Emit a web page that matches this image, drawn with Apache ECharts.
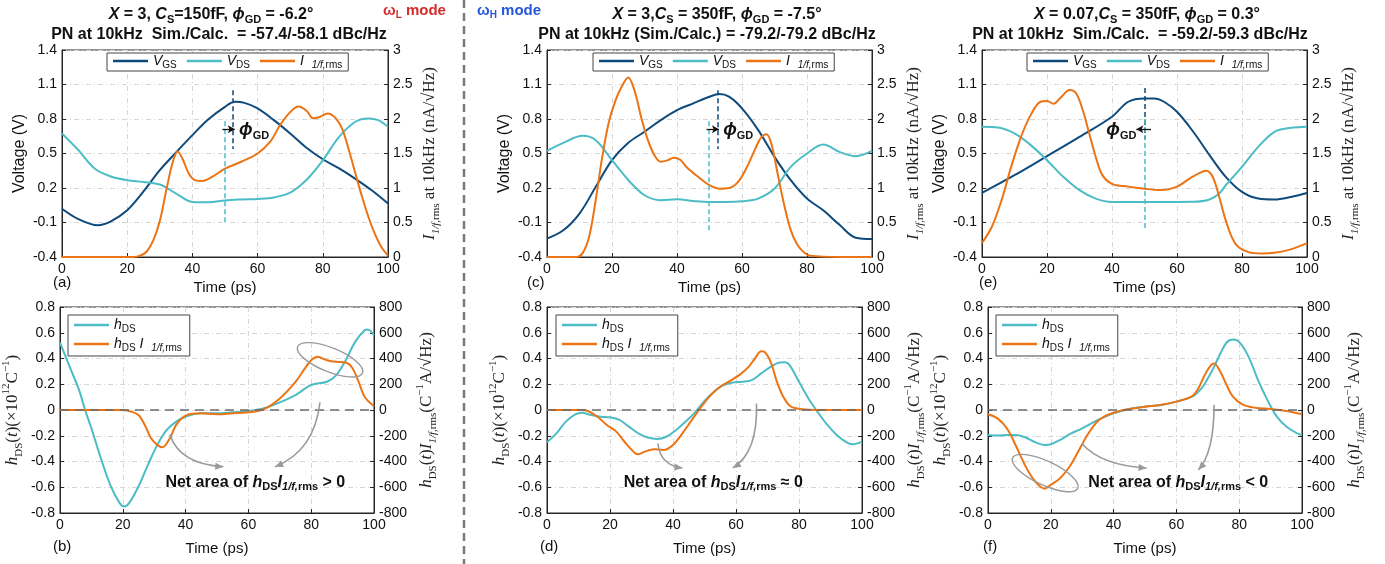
<!DOCTYPE html>
<html>
<head>
<meta charset="utf-8">
<script src="https://cdn.jsdelivr.net/npm/echarts@6/dist/echarts.min.js"></script>
<style>
html, body { margin: 0; padding: 0; background: #fff; }
#chart { width: 1385px; height: 564px; }
</style>
</head>
<body>
<div id="chart"></div>
<script>
// ---- (a) wL mode ----
var tVgsA = [0, 5, 11, 15, 20, 25, 30, 35, 40, 45, 50, 53, 56, 60, 65, 70, 75, 80, 85, 90, 95, 100];
var vgsA = [0.02, -0.07, -0.124, -0.09, 0.006, 0.17, 0.355, 0.51, 0.66, 0.8, 0.906, 0.95, 0.94, 0.892, 0.79, 0.674, 0.55, 0.45, 0.37, 0.28, 0.18, 0.065];
var tVdsA = [0, 5, 10, 15, 20, 25, 30, 35, 40, 45, 50, 55, 60, 65, 70, 73, 76, 80, 85, 90, 94, 97, 100];
var vdsA = [0.674, 0.53, 0.37, 0.3, 0.268, 0.253, 0.23, 0.152, 0.079, 0.076, 0.092, 0.1, 0.105, 0.118, 0.16, 0.22, 0.3, 0.44, 0.645, 0.776, 0.805, 0.79, 0.732];
var tIA = [0, 22, 24, 26, 28, 30, 32, 34, 35.5, 37, 39, 41, 43, 46, 50, 55, 60, 64, 67, 70, 72.5, 75, 77, 79, 81.5, 84, 86, 88, 90, 92, 94, 96, 98, 100];
var iA = [0, 0, 0.02, 0.08, 0.24, 0.52, 0.97, 1.38, 1.53, 1.42, 1.2, 1.11, 1.1, 1.16, 1.28, 1.38, 1.5, 1.68, 1.92, 2.1, 2.18, 2.12, 2.01, 2.03, 2.08, 2.01, 1.85, 1.55, 1.21, 0.88, 0.58, 0.33, 0.14, 0.02];

// ---- (b) ----
var tHA = [0, 3, 6, 8, 10, 13, 16, 19, 20.5, 22, 25, 28, 31, 34, 37, 40, 45, 50, 55, 60, 65, 70, 75, 80, 85, 88, 91, 94, 97, 98, 100];
var hA = [0.524, 0.34, 0.16, 0.0, -0.142, -0.374, -0.581, -0.723, -0.748, -0.723, -0.594, -0.426, -0.271, -0.155, -0.09, -0.052, -0.026, -0.026, -0.018, -0.008, 0.013, 0.059, 0.116, 0.194, 0.219, 0.271, 0.387, 0.529, 0.619, 0.625, 0.581];
var tHIA = [0, 20, 22, 25, 27, 29, 31, 32.6, 35, 37, 40, 45, 50, 55, 60, 65, 70, 75, 78, 80, 82, 85, 88, 91, 93, 95, 97, 100];
var hIA = [0, 0, -8, -39, -116, -219, -271, -290, -219, -116, -44, -26, -33, -26, -18, 8, 90, 219, 323, 387, 413, 387, 374, 369, 330, 226, 103, 30];

// ---- (c) wH mode ----
var tVgsC = [0, 5, 10, 15, 20, 25, 30, 35, 40, 45, 50, 53, 56, 60, 65, 70, 75, 80, 85, 90, 95, 100];
var vgsC = [-0.24, -0.168, -0.022, 0.21, 0.442, 0.593, 0.689, 0.79, 0.877, 0.936, 0.994, 1.017, 0.994, 0.892, 0.703, 0.471, 0.268, 0.108, 0.006, -0.12, -0.232, -0.243];
var tVdsC = [0, 5, 11, 15, 20, 25, 30, 35, 40, 45, 50, 55, 60, 65, 70, 75, 80, 85, 90, 95, 100];
var vdsC = [0.523, 0.593, 0.654, 0.616, 0.442, 0.27, 0.137, 0.094, 0.102, 0.088, 0.079, 0.079, 0.085, 0.108, 0.195, 0.384, 0.5, 0.578, 0.514, 0.477, 0.523];
var tIC = [0, 9, 11, 13, 15, 17, 19, 21, 23, 25, 27, 29, 31, 33, 35, 37, 39, 41, 43, 46, 50, 53, 56, 59, 62, 64, 66, 67.5, 69, 71, 73, 75, 77, 79, 81, 90, 100];
var iC = [0, 0, 0.06, 0.3, 0.83, 1.45, 1.95, 2.26, 2.47, 2.6, 2.4, 2.02, 1.7, 1.48, 1.38, 1.4, 1.44, 1.41, 1.3, 1.18, 1.04, 0.99, 1.0, 1.1, 1.35, 1.56, 1.74, 1.78, 1.65, 1.2, 0.75, 0.39, 0.18, 0.07, 0.02, 0, 0];

// ---- (d) ----
var tHC = [0, 3, 6, 9, 11, 14, 17, 20, 23, 26, 29, 32, 35, 38, 41, 44, 47, 50, 53, 56, 59, 62, 65, 68, 71, 74, 75.5, 77, 80, 83, 86, 89, 92, 95, 97, 100];
var hC = [-0.25, -0.181, -0.09, -0.034, -0.021, -0.039, -0.052, -0.057, -0.077, -0.129, -0.181, -0.214, -0.225, -0.206, -0.155, -0.09, -0.018, 0.07, 0.142, 0.194, 0.214, 0.219, 0.232, 0.284, 0.335, 0.369, 0.37, 0.348, 0.219, 0.09, -0.018, -0.116, -0.194, -0.25, -0.266, -0.245];
var tHIC = [0, 11, 13, 16, 19, 22, 25, 28, 29, 31, 34, 37, 40, 43, 46, 49, 52, 55, 58, 61, 64, 66, 68, 69, 71, 73, 75, 77, 79, 81, 85, 100];
var hIC = [0, 0, -8, -52, -116, -168, -258, -335, -343, -323, -305, -310, -271, -181, -77, 26, 116, 181, 225, 271, 335, 400, 457, 452, 374, 219, 103, 34, 13, 5, 0, 0];

// ---- (e) ----
var tVgsE = [0, 10, 20, 30, 40, 45, 50, 53, 56, 60, 65, 70, 75, 80, 85, 90, 95, 100];
var vgsE = [0.157, 0.311, 0.477, 0.645, 0.82, 0.95, 0.979, 0.979, 0.95, 0.863, 0.689, 0.486, 0.297, 0.166, 0.108, 0.1, 0.122, 0.157];
var tVdsE = [0, 5, 10, 15, 20, 25, 30, 35, 40, 50, 60, 65, 70, 73, 75, 80, 85, 90, 95, 100];
var vdsE = [0.732, 0.726, 0.674, 0.573, 0.442, 0.297, 0.181, 0.108, 0.079, 0.079, 0.079, 0.08, 0.1, 0.152, 0.224, 0.384, 0.558, 0.689, 0.723, 0.732];
var tIE = [0, 3, 6, 9, 12, 15, 18, 20, 22, 24, 27, 29, 31, 33, 35, 37, 40, 45, 50, 55, 60, 64, 67, 69, 71, 73, 75, 78, 82, 86, 90, 95, 100];
var iE = [0.203, 0.435, 0.82, 1.31, 1.74, 2.06, 2.25, 2.26, 2.22, 2.3, 2.42, 2.37, 2.13, 1.79, 1.45, 1.19, 1.06, 1.02, 0.99, 0.97, 1.02, 1.14, 1.22, 1.25, 1.16, 0.87, 0.53, 0.19, 0.07, 0.05, 0.06, 0.11, 0.2];

// ---- (f) ----
var tHE = [0, 3, 6, 9, 12, 15, 18, 20, 23, 26, 30, 35, 40, 45, 50, 55, 60, 65, 68, 70, 72, 74, 76, 78, 80, 83, 86, 89, 92, 95, 98, 100];
var hE = [-0.194, -0.199, -0.194, -0.194, -0.214, -0.25, -0.271, -0.266, -0.232, -0.188, -0.142, -0.077, -0.026, 0.008, 0.026, 0.039, 0.065, 0.103, 0.168, 0.245, 0.335, 0.439, 0.524, 0.547, 0.529, 0.413, 0.232, 0.077, -0.052, -0.129, -0.175, -0.194];
var tHIE = [0, 3, 6, 9, 12, 15, 18, 20, 23, 26, 29, 32, 35, 38, 41, 45, 50, 55, 60, 65, 67, 69, 71, 72, 74, 76, 78, 81, 85, 90, 95, 100];
var hIE = [-33, -65, -142, -284, -439, -555, -611, -581, -529, -439, -310, -181, -85, -39, -13, 8, 26, 39, 65, 108, 168, 271, 348, 361, 297, 194, 103, 44, 18, 8, -8, -33];

// 标注: phiGD 虚线位置 [t, y1, y2]
var phiVgs = { a: [52.5, 1.05, 0.54], c: [52.4, 1.05, 0.54], e: [50.2, 1.07, 0.62] };
var phiVds = { a: [50, 0.78, -0.11], c: [49.9, 0.78, -0.17], e: [50, 0.8, -0.17] };

var chart = echarts.init(document.getElementById('chart'));
var SANS = 'Liberation Sans, Arial, Helvetica, sans-serif';
var SERIF = 'Liberation Serif, DejaVu Serif, Times New Roman, serif';
var C_VGS = '#0e4a7b';
var C_VDS = '#4cbcc5';
var C_I = '#ec7414';
var AX = '#262626';

function pairs(t, v) {
    return t.map(function (x, i) { return [x, v[i]]; });
}

var panels = [
    { id: 'a', top: true, g: [62, 50, 326, 207], lines: [[tVgsA, vgsA, C_VGS, 'VGS', 0], [tVdsA, vdsA, C_VDS, 'VDS', 0], [tIA, iA, C_I, 'I', 1]] },
    { id: 'b', top: false, g: [59, 307, 315, 206], lines: [[tHA, hA, C_VDS, 'hDS', 0], [tHIA, hIA, C_I, 'hDSI', 1]] },
    { id: 'c', top: true, g: [547, 50, 325, 207], lines: [[tVgsC, vgsC, C_VGS, 'VGS', 0], [tVdsC, vdsC, C_VDS, 'VDS', 0], [tIC, iC, C_I, 'I', 1]] },
    { id: 'd', top: false, g: [547, 307, 315, 206], lines: [[tHC, hC, C_VDS, 'hDS', 0], [tHIC, hIC, C_I, 'hDSI', 1]] },
    { id: 'e', top: true, g: [982, 50, 325, 207], lines: [[tVgsE, vgsE, C_VGS, 'VGS', 0], [tVdsE, vdsE, C_VDS, 'VDS', 0], [tIE, iE, C_I, 'I', 1]] },
    { id: 'f', top: false, g: [988, 307, 314, 206], lines: [[tHE, hE, C_VDS, 'hDS', 0], [tHIE, hIE, C_I, 'hDSI', 1]] }
];

var serifRich = {
    n: { fontFamily: SERIF, fontSize: 17, color: '#222' },
    i: { fontFamily: SERIF, fontStyle: 'italic', fontSize: 17, color: '#222' },
    s: { fontFamily: SERIF, fontSize: 11, color: '#222', verticalAlign: 'bottom', lineHeight: 24 },
    si: { fontFamily: SERIF, fontStyle: 'italic', fontSize: 11, color: '#222', verticalAlign: 'bottom', lineHeight: 24 },
    p: { fontFamily: SERIF, fontSize: 11, color: '#222', verticalAlign: 'top', lineHeight: 24 }
};

var legendRich = {
    i: { fontFamily: SANS, fontStyle: 'italic', fontSize: 14, color: '#111', lineHeight: 18 },
    s: { fontFamily: SANS, fontSize: 10, color: '#111', verticalAlign: 'bottom', lineHeight: 18, padding: [6, 0, 0, 0] },
    si: { fontFamily: SANS, fontStyle: 'italic', fontSize: 10, color: '#111', verticalAlign: 'bottom', lineHeight: 18, padding: [6, 0, 0, 0] }
};
var legendText = {
    VGS: '{i|V}{s|GS}',
    VDS: '{i|V}{s|DS}',
    I: '{i|I}  {si|1/f,}{s|rms}',
    hDS: '{i|h}{s|DS}',
    hDSI: '{i|h}{s|DS} {i|I}  {si|1/f,}{s|rms}'
};

var gridLine = { show: true, lineStyle: { color: '#d6d6d6', type: [5, 3, 1, 3], width: 1 } };

var option = {
    animation: false,
    backgroundColor: '#fff',
    textStyle: { fontFamily: SANS },
    grid: [], xAxis: [], yAxis: [], series: [], legend: []
};

var leftSeries = [];

panels.forEach(function (p, i) {
    option.grid.push({
        left: p.g[0], top: p.g[1], width: p.g[2], height: p.g[3],
        show: true, borderColor: AX, borderWidth: 1, backgroundColor: 'rgba(0,0,0,0)'
    });
    option.xAxis.push({
        gridIndex: i, type: 'value', min: 0, max: 100, interval: 20,
        name: 'Time (ps)', nameLocation: 'middle', nameGap: p.top ? 23 : 28,
        nameTextStyle: { fontSize: 15, color: '#111' },
        axisLine: { show: true, onZero: false, lineStyle: { color: AX } },
        axisTick: { show: true, inside: true, length: 4, lineStyle: { color: AX } },
        axisLabel: { fontSize: 14, color: '#111', margin: 5 },
        splitLine: gridLine
    });
    if (p.top) {
        option.yAxis.push({
            gridIndex: i, type: 'value', min: -0.4, max: 1.4, interval: 0.3,
            name: 'Voltage (V)', nameLocation: 'middle', nameGap: 34,
            nameTextStyle: { fontSize: 16, color: '#111' },
            axisLine: { show: true, onZero: false, lineStyle: { color: AX } },
            axisTick: { show: true, inside: true, length: 4, lineStyle: { color: AX } },
            axisLabel: { fontSize: 14, color: '#111', margin: 5, formatter: function (v) { return v.toFixed(1); } },
            splitLine: gridLine
        });
        option.yAxis.push({
            gridIndex: i, type: 'value', position: 'right', min: 0, max: 3, interval: 0.5,
            name: '{i|I}{si|1/f,}{s|rms} {n|at 10kHz (nA/√Hz)}', nameLocation: 'middle', nameGap: 30,
            nameTextStyle: { rich: serifRich, fontFamily: SERIF, fontSize: 17, color: '#222' },
            axisLine: { show: true, onZero: false, lineStyle: { color: AX } },
            axisTick: { show: true, inside: true, length: 4, lineStyle: { color: AX } },
            axisLabel: { fontSize: 14, color: '#111', margin: 5, formatter: function (v) { return String(+v.toFixed(1)); } },
            splitLine: { show: false }
        });
    } else {
        option.yAxis.push({
            gridIndex: i, type: 'value', min: -0.8, max: 0.8, interval: 0.2,
            name: '{i|h}{s|DS}{n|(}{i|t}{n|)(×10}{p|12}{n|C}{p|−1}{n|)}', nameLocation: 'middle', nameGap: 35,
            nameTextStyle: { rich: serifRich, fontFamily: SERIF, fontSize: 17, color: '#222' },
            axisLine: { show: true, onZero: false, lineStyle: { color: AX } },
            axisTick: { show: true, inside: true, length: 4, lineStyle: { color: AX } },
            axisLabel: { fontSize: 14, color: '#111', margin: 5, formatter: function (v) { return Math.abs(v) < 1e-9 ? '0' : v.toFixed(1); } },
            splitLine: gridLine
        });
        option.yAxis.push({
            gridIndex: i, type: 'value', position: 'right', min: -800, max: 800, interval: 200,
            name: '{i|h}{s|DS}{n|(}{i|t}{n|)}{i|I}{si|1/f,}{s|rms}{n|(C}{p|−1}{n|A/√Hz)}', nameLocation: 'middle', nameGap: 41,
            nameTextStyle: { rich: serifRich, fontFamily: SERIF, fontSize: 17, color: '#222' },
            axisLine: { show: true, onZero: false, lineStyle: { color: AX } },
            axisTick: { show: true, inside: true, length: 4, lineStyle: { color: AX } },
            axisLabel: { fontSize: 14, color: '#111', margin: 5, formatter: function (v) { return String(Math.round(v)); } },
            splitLine: { show: false }
        });
    }

    p.lines.forEach(function (ln, k) {
        var s = {
            name: ln[3], type: 'line', xAxisIndex: i, yAxisIndex: 2 * i + ln[4],
            data: pairs(ln[0], ln[1]), smooth: 0.35, showSymbol: false, silent: true,
            itemStyle: { color: ln[2] }, lineStyle: { color: ln[2], width: 2 }
        };
        if (k === 0) leftSeries[i] = option.series.length;
        // 零线 (画在橙线上面)
        if (!p.top && ln[3] === 'hDSI') {
            s.markLine = {
                silent: true, symbol: ['none', 'none'], label: { show: false },
                lineStyle: { color: '#6b6b6b', type: [9, 6], width: 1.6 },
                data: [{ yAxis: 0 }]
            };
        }
        if (p.top && ln[3] === 'VGS') {
            var pv = phiVgs[p.id];
            s.markLine = {
                silent: true, symbol: ['none', 'none'], label: { show: false },
                lineStyle: { color: C_VGS, type: [5, 3], width: 1.5 },
                data: [[{ coord: [pv[0], pv[1]] }, { coord: [pv[0], pv[2]] }]]
            };
        }
        if (p.top && ln[3] === 'VDS') {
            var pd = phiVds[p.id];
            var right = p.id !== 'e';
            var a0 = right ? pd[0] - 0.8 : phiVgs[p.id][0] + 1.8;
            var a1 = right ? phiVgs[p.id][0] + 0.5 : pd[0] - 2.5;
            s.markLine = {
                silent: true, label: { show: false },
                data: [
                    [{ coord: [pd[0], pd[1]], symbol: 'none', lineStyle: { color: C_VDS, type: [5, 3], width: 1.5 } }, { coord: [pd[0], pd[2]], symbol: 'none' }],
                    [{ coord: [a0, 0.71], symbol: 'none', lineStyle: { color: '#111', type: 'solid', width: 1.3 } }, { coord: [a1, 0.71], symbol: 'arrow', symbolSize: [6, 7] }]
                ]
            };
        }
        option.series.push(s);
    });

    var isTop = p.top;
    var lg = {
        show: true, orient: isTop ? 'horizontal' : 'vertical',
        data: isTop ? ['VGS', 'VDS', 'I'] : ['hDS', 'hDSI'],
        icon: 'rect', itemWidth: 35, itemHeight: 2.5, itemGap: isTop ? 10 : 3,
        borderColor: '#444', borderWidth: 1, backgroundColor: '#fff', borderRadius: 0,
        padding: isTop ? [1, 6, 1, 6] : [3, 8, 3, 6],
        selectedMode: false,
        formatter: function (name) { return legendText[name]; },
        textStyle: { rich: legendRich, fontSize: 14 }
    };
    var lpos = { a: [107, 53], b: [68, 315], c: [593, 53], d: [556, 315], e: [1027, 53], f: [996, 315] }[p.id];
    lg.left = lpos[0];
    lg.top = lpos[1];
    option.legend.push(lg);
});

chart.setOption(option);

// ---- 标注 graphic ----
function px(i, pt) {
    return chart.convertToPixel({ seriesIndex: leftSeries[i] }, pt);
}

function richStyles(c, size) {
    return {
        b: { fontFamily: SANS, fontWeight: 'bold', fontSize: size, fill: c },
        bi: { fontFamily: SANS, fontWeight: 'bold', fontStyle: 'italic', fontSize: size, fill: c },
        s: { fontFamily: SANS, fontWeight: 'bold', fontSize: Math.round(size * 0.68), fill: c, verticalAlign: 'bottom', lineHeight: size + 4 },
        si: { fontFamily: SANS, fontWeight: 'bold', fontStyle: 'italic', fontSize: Math.round(size * 0.68), fill: c, verticalAlign: 'bottom', lineHeight: size + 4 }
    };
}
var titleRich = richStyles('#111', 16);

var graphics = [];
function txt(x, y, text, rich, align, extra) {
    var st = { text: text, x: x, y: y, align: align || 'center', verticalAlign: 'middle', rich: rich, font: 'bold 15px ' + SANS, fill: '#111' };
    if (extra) for (var k in extra) st[k] = extra[k];
    graphics.push({ type: 'text', z: 100, style: st, silent: true });
}

var titles = [
    [211, 15, '{bi|X}{b| = 3, }{bi|C}{s|S}{b|=150fF, }{bi|ϕ}{s|GD}{b| = -6.2°}'],
    [219, 35, '{b|PN at 10kHz  Sim./Calc.  = -57.4/-58.1 dBc/Hz}'],
    [717, 15, '{bi|X}{b| = 3,}{bi|C}{s|S}{b| = 350fF, }{bi|ϕ}{s|GD}{b| = -7.5°}'],
    [707, 35, '{b|PN at 10kHz (Sim./Calc.) = -79.2/-79.2 dBc/Hz}'],
    [1147, 15, '{bi|X}{b| = 0.07,}{bi|C}{s|S}{b| = 350fF, }{bi|ϕ}{s|GD}{b| = 0.3°}'],
    [1140, 35, '{b|PN at 10kHz  Sim./Calc.  = -59.2/-59.3 dBc/Hz}']
];
titles.forEach(function (t) { txt(t[0], t[1], t[2], titleRich); });

txt(383, 11, '{b|ω}{s|L}{b| mode}', richStyles('#d42b2b', 15), 'left');
txt(477, 11, '{b|ω}{s|H}{b| mode}', richStyles('#2457dc', 15), 'left');

// 分隔虚线
graphics.push({
    type: 'line', silent: true, z: 50,
    shape: { x1: 464, y1: 0, x2: 464, y2: 564 },
    style: { stroke: '#7a7a7a', lineWidth: 2.5, lineDash: [8, 5] }
});

var letterPos = { a: [53, 283], b: [53, 547], c: [527, 283], d: [540, 547], e: [979, 283], f: [983, 547] };
Object.keys(letterPos).forEach(function (k) {
    txt(letterPos[k][0], letterPos[k][1], '(' + k + ')', null, 'left', { font: '15px ' + SANS });
});

var phiRich = {
    p: { fontFamily: SANS, fontWeight: 'bold', fontStyle: 'italic', fontSize: 18, fill: '#111' },
    s: { fontFamily: SANS, fontWeight: 'bold', fontSize: 11, fill: '#111', verticalAlign: 'bottom', lineHeight: 22 }
};
var phiText = { a: [54.3, 0.71, 'left'], c: [54.2, 0.71, 'left'], e: [47.5, 0.71, 'right'] };
[['a', 0], ['c', 2], ['e', 4]].forEach(function (q) {
    var pt = px(q[1], [phiText[q[0]][0], phiText[q[0]][1]]);
    txt(pt[0], pt[1] + 1, '{p|ϕ}{s|GD}', phiRich, phiText[q[0]][2]);
});

// 弯曲箭头: [panel, start, ctrl, end]
var curveArrows = [
    [1, [35, -0.19], [38, -0.42], [52, -0.44]],
    [1, [82.8, 0.06], [81, -0.32], [68.5, -0.44]],
    [3, [35.2, -0.26], [36, -0.43], [43, -0.45]],
    [3, [66.5, 0.05], [67, -0.33], [59, -0.45]],
    [5, [29.9, -0.26], [36, -0.43], [50.5, -0.45]],
    [5, [72, 0.04], [72, -0.33], [67, -0.465]]
];
curveArrows.forEach(function (c) {
    var s = px(c[0], c[1]), m = px(c[0], c[2]), e = px(c[0], c[3]);
    graphics.push({
        type: 'bezierCurve', silent: true, z: 60,
        shape: { x1: s[0], y1: s[1], x2: e[0], y2: e[1], cpx1: m[0], cpy1: m[1] },
        style: { stroke: '#9a9a9a', lineWidth: 1.6, fill: null }
    });
    var dx = e[0] - m[0], dy = e[1] - m[1], L = Math.sqrt(dx * dx + dy * dy);
    dx /= L; dy /= L;
    var len = 8, hw = 3.5;
    graphics.push({
        type: 'polygon', silent: true, z: 61,
        shape: { points: [[e[0], e[1]], [e[0] - dx * len - dy * hw, e[1] - dy * len + dx * hw], [e[0] - dx * len + dy * hw, e[1] - dy * len - dx * hw]] },
        style: { fill: '#9a9a9a' }
    });
});

// 椭圆: [panel, center, rx, ry, rot(deg)]
var ellipses = [
    [1, [86, 0.39], 35, 12, -22],
    [5, [18.2, -0.49], 36, 12, -25]
];
ellipses.forEach(function (el) {
    var c = px(el[0], el[1]);
    graphics.push({
        type: 'ellipse', silent: true, z: 60, x: c[0], y: c[1], rotation: el[4] * Math.PI / 180,
        shape: { cx: 0, cy: 0, rx: el[2], ry: el[3] },
        style: { stroke: '#9a9a9a', lineWidth: 1.4, fill: null }
    });
});

var netRich = richStyles('#111', 16);
var netTexts = [[1, 62.2, '>'], [3, 52.8, '≈'], [5, 60.6, '<']];
netTexts.forEach(function (n) {
    var pt = px(n[0], [n[1], -0.56]);
    txt(pt[0], pt[1], '{b|Net area of }{bi|h}{s|DS}{bi|I}{si|1/f,}{s|rms}{b| ' + n[2] + ' 0}', netRich);
});

chart.setOption({ graphic: graphics });
</script>
</body>
</html>
